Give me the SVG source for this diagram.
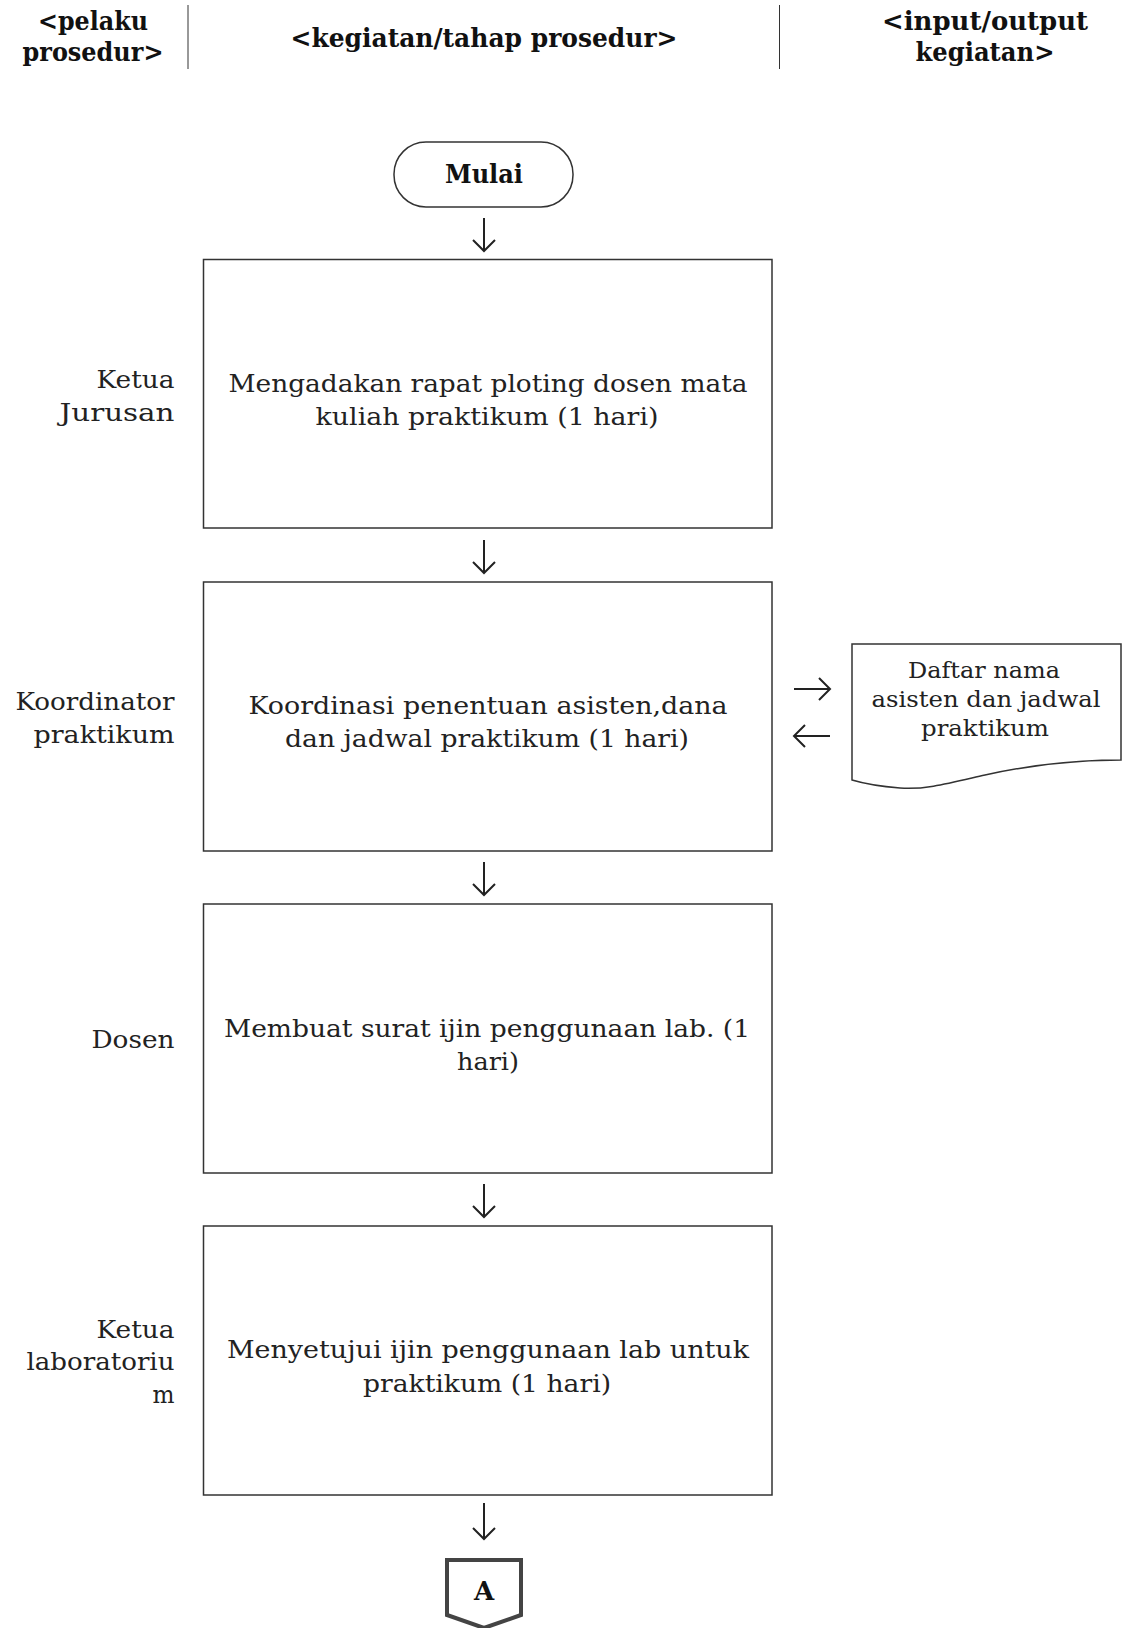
<svg xmlns="http://www.w3.org/2000/svg" width="1122" height="1628" viewBox="0 0 1122 1628">
<style>
.hd{font-family:"DejaVu Serif","Liberation Serif",serif;font-weight:bold;font-size:26px;fill:#111;text-anchor:middle}
.tx{font-family:"DejaVu Serif","Liberation Serif",serif;font-size:25px;fill:#222;text-anchor:middle}
.lb{font-family:"DejaVu Serif","Liberation Serif",serif;font-size:25px;fill:#222;text-anchor:end}
.dt{font-family:"DejaVu Serif","Liberation Serif",serif;font-size:22px;fill:#222;text-anchor:middle}
.box{fill:#fff;stroke:#333;stroke-width:1.5}
.ln{fill:none;stroke:#222;stroke-width:2}
</style>
<defs>
<marker id="ah" markerWidth="14" markerHeight="24" refX="12" refY="12" orient="auto" markerUnits="userSpaceOnUse">
<path d="M1,1 L12,12 L1,23" fill="none" stroke="#222" stroke-width="2"/>
</marker>
</defs>
<g id="header">
<text class="hd" x="93" y="30" textLength="110" lengthAdjust="spacingAndGlyphs">&lt;pelaku</text>
<text class="hd" x="93" y="61" textLength="141" lengthAdjust="spacingAndGlyphs">prosedur&gt;</text>
<line x1="188" y1="5" x2="188" y2="69" stroke="#333" stroke-width="1"/>
<text class="hd" x="484" y="47" textLength="387" lengthAdjust="spacingAndGlyphs">&lt;kegiatan/tahap prosedur&gt;</text>
<line x1="779.5" y1="5" x2="779.5" y2="69" stroke="#333" stroke-width="1"/>
<text class="hd" x="985" y="30" textLength="206" lengthAdjust="spacingAndGlyphs">&lt;input/output</text>
<text class="hd" x="985" y="61" textLength="139" lengthAdjust="spacingAndGlyphs">kegiatan&gt;</text>
</g>
<g id="mulai">
<rect class="box" x="394" y="142" width="179" height="65" rx="32" ry="32"/>
<text class="hd" x="484" y="183" textLength="78" lengthAdjust="spacingAndGlyphs">Mulai</text>
</g>
<g id="step1">
<rect class="box" x="203.5" y="259.5" width="568.5" height="268.5"/>
<text class="tx" x="488" y="392" textLength="519" lengthAdjust="spacingAndGlyphs">Mengadakan rapat ploting dosen mata</text>
<text class="tx" x="487" y="425" textLength="343" lengthAdjust="spacingAndGlyphs">kuliah praktikum (1 hari)</text>
</g>
<g id="actor1">
<text class="lb" x="174.5" y="388" textLength="78" lengthAdjust="spacingAndGlyphs">Ketua</text>
<text class="lb" x="174.5" y="421" textLength="115" lengthAdjust="spacingAndGlyphs">Jurusan</text>
</g>
<g id="step2">
<rect class="box" x="203.5" y="582" width="568.5" height="269"/>
<text class="tx" x="488" y="714" textLength="479" lengthAdjust="spacingAndGlyphs">Koordinasi penentuan asisten,dana</text>
<text class="tx" x="487" y="747" textLength="404" lengthAdjust="spacingAndGlyphs">dan jadwal praktikum (1 hari)</text>
</g>
<g id="actor2">
<text class="lb" x="174.5" y="710" textLength="159" lengthAdjust="spacingAndGlyphs">Koordinator</text>
<text class="lb" x="174.5" y="743" textLength="141" lengthAdjust="spacingAndGlyphs">praktikum</text>
</g>
<g id="doc1">
<path class="box" d="M852,644 H1121 V760 C1070,760 1030,765 985,775 C950,783 925,790 900,788 C875,786 862,783 852,780 Z"/>
<text class="dt" x="984" y="678" textLength="152" lengthAdjust="spacingAndGlyphs">Daftar nama</text>
<text class="dt" x="986" y="707" textLength="229" lengthAdjust="spacingAndGlyphs">asisten dan jadwal</text>
<text class="dt" x="985" y="736" textLength="128" lengthAdjust="spacingAndGlyphs">praktikum</text>
</g>
<g id="step3">
<rect class="box" x="203.5" y="904" width="568.5" height="269"/>
<text class="tx" x="487" y="1037" textLength="526" lengthAdjust="spacingAndGlyphs">Membuat surat ijin penggunaan lab. (1</text>
<text class="tx" x="488" y="1070" textLength="62" lengthAdjust="spacingAndGlyphs">hari)</text>
</g>
<g id="actor3">
<text class="lb" x="174.5" y="1048" textLength="83" lengthAdjust="spacingAndGlyphs">Dosen</text>
</g>
<g id="step4">
<rect class="box" x="203.5" y="1226" width="568.5" height="269"/>
<text class="tx" x="488" y="1358" textLength="522" lengthAdjust="spacingAndGlyphs">Menyetujui ijin penggunaan lab untuk</text>
<text class="tx" x="487" y="1392" textLength="248" lengthAdjust="spacingAndGlyphs">praktikum (1 hari)</text>
</g>
<g id="actor4">
<text class="lb" x="174.5" y="1338" textLength="78" lengthAdjust="spacingAndGlyphs">Ketua</text>
<text class="lb" x="174.5" y="1370" textLength="148" lengthAdjust="spacingAndGlyphs">laboratoriu</text>
<text class="lb" x="174.5" y="1403" textLength="22" lengthAdjust="spacingAndGlyphs">m</text>
</g>
<g id="connectorA">
<path d="M447,1560 H521 V1615 L484,1628 L447,1615 Z" fill="#fff" stroke="#444" stroke-width="4"/>
<text class="hd" x="484" y="1600" font-size="22" text-anchor="middle">A</text>
</g>
<g id="connectors">
<line class="ln" x1="484" y1="218" x2="484" y2="251" marker-end="url(#ah)"/>
<line class="ln" x1="484" y1="540" x2="484" y2="573" marker-end="url(#ah)"/>
<line class="ln" x1="484" y1="862" x2="484" y2="895" marker-end="url(#ah)"/>
<line class="ln" x1="484" y1="1184" x2="484" y2="1217" marker-end="url(#ah)"/>
<line class="ln" x1="484" y1="1503" x2="484" y2="1539" marker-end="url(#ah)"/>
<line class="ln" x1="794" y1="689" x2="830" y2="689" marker-end="url(#ah)"/>
<line class="ln" x1="830" y1="736" x2="794" y2="736" marker-end="url(#ah)"/>
</g>
</svg>
